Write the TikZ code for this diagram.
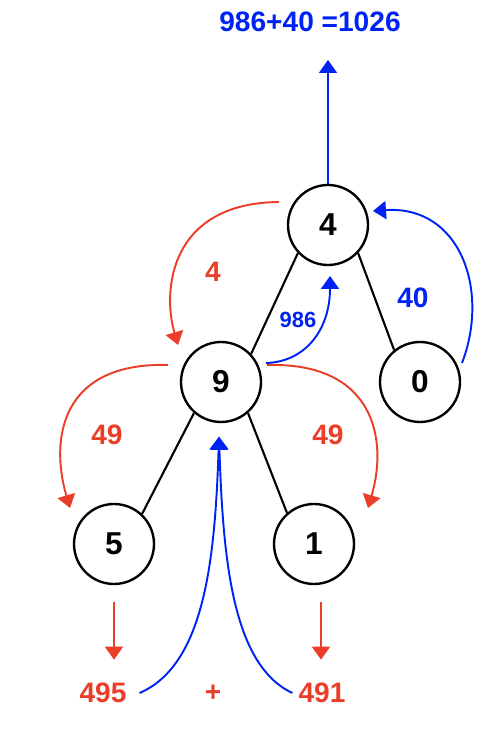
\documentclass[tikz,border=0pt]{standalone}
\usepackage{fontspec}
\setmainfont{Liberation Sans}
\usetikzlibrary{calc, positioning, arrows.meta}
\definecolor{sumred}{RGB}{234,62,40}
\definecolor{sumblue}{RGB}{0,35,245}

\begin{document}
\begin{tikzpicture}[
        digit/.style={circle, draw=black, line width=1.35pt, minimum size=1.6cm,
                      inner sep=0pt, font=\bfseries\fontsize{18}{21}\selectfont},
        edge/.style={line width=1.2pt},
        passdown/.style={-{Triangle[width=0.36cm, length=0.26cm]}, sumred, line width=1.1pt},
        passup/.style={-{Triangle[width=0.36cm, length=0.26cm]}, sumblue, line width=1.1pt},
        lab/.style={font=\bfseries\fontsize{16}{19}\selectfont, inner sep=1pt},
    ]
    \useasboundingbox (0,0) rectangle (10,14.98);

    % tree nodes
    \node[digit] (n4) at (6.56, 10.48) {4};
    \node[digit] (n9) at (4.42, 7.34) {9};
    \node[digit] (n0) at (8.40, 7.34) {0};
    \node[digit] (n5) at (2.28, 4.10) {5};
    \node[digit] (n1) at (6.28, 4.10) {1};

    % tree edges
    \draw[edge] (n4.223) -- (n9.43);
    \draw[edge] (n4.317) -- (n0.129);
    \draw[edge] (n9.229) -- (n5.47);
    \draw[edge] (n9.311) -- (n1.131);

    % result at the top
    \node[lab, sumblue] (total) at (6.20, 14.54) {986+40 =1026};
    \coordinate (top) at (6.56, 13.78);
    \draw[passup] (n4.north) -- (top);

    % numbers at the leaves
    \node[lab, sumred] (s495) at (2.06, 1.12) {495};
    \node[lab, sumred] (plus) at (4.26, 1.12) {+};
    \node[lab, sumred] (s491) at (6.44, 1.12) {491};

    % values passed down
    \draw[passdown] ($(n4)+(-0.98,0.46)$) .. controls +(-2.18,-0.02) and +(-0.32,1.10) .. ($(n9)+(-0.86,0.74)$);
    \node[lab, sumred] (v4) at (4.26, 9.54) {4};
    \draw[passdown] ($(n9)+(-1.06,0.34)$) .. controls +(-2.16,0.06) and +(-0.40,1.36) .. ($(n5)+(-0.88,0.72)$);
    \node[lab, sumred] (v49l) at (2.14, 6.28) {49};
    \draw[passdown] ($(n9)+(0.92,0.34)$) .. controls +(2.16,0.06) and +(0.40,1.36) .. ($(n1)+(1.08,0.72)$);
    \node[lab, sumred] (v49r) at (6.56, 6.28) {49};
    \draw[passdown, shorten <=0.33cm] (n5.south) -- ++(0,-1.49);
    \draw[passdown, shorten <=0.33cm] ([xshift=0.14cm]n1.south) -- ++(0,-1.49);

    % sums passed up
    \draw[passup] ($(s495.east)+(0.22,0)$) .. controls +(1.30,0.56) and +(-0.08,-2.46) .. ($(n9.south)+(-0.04,-0.27)$);
    \draw[passup] ($(s491.west)+(-0.08,0)$) .. controls +(-1.20,0.56) and +(0.08,-2.46) .. ($(n9.south)+(-0.04,-0.27)$);
    \draw[passup] ($(n9)+(0.90,0.38)$) .. controls +(0.78,0.02) and +(0,-1.08) .. ($(n4)+(0.04,-1.02)$);
    \node[lab, sumblue, font=\bfseries\fontsize{12.5}{15}\selectfont] (v986) at (5.96, 8.58) {986};
    \draw[passup] ($(n0)+(0.84,0.38)$) .. controls +(0.56,1.46) and +(1.74,0.12) .. ($(n4)+(0.90,0.28)$);
    \node[lab, sumblue] (v40) at (8.26, 9.02) {40};

\end{tikzpicture}
\end{document}
